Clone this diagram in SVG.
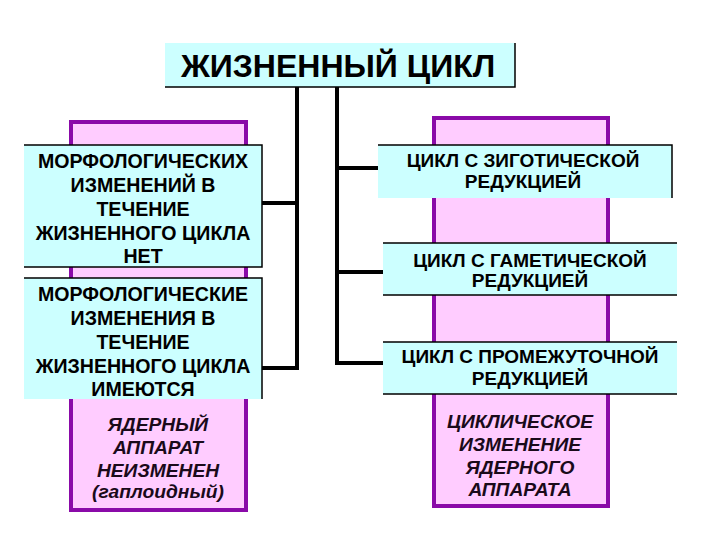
<svg xmlns="http://www.w3.org/2000/svg" width="720" height="540" viewBox="0 0 720 540">
<style>
.pk{fill:#ffccff;stroke:#8a0aa8;stroke-width:4}
.cy{fill:#ccffff}
.ed{stroke:#000;stroke-width:1.5;fill:none}
.t{font-family:"Liberation Sans",Arial,sans-serif;font-weight:bold;font-size:19.6px;fill:#000;text-anchor:middle}
.r{font-family:"Liberation Sans",Arial,sans-serif;font-weight:bold;font-size:19px;fill:#000;text-anchor:middle}
.i{font-family:"Liberation Sans",Arial,sans-serif;font-weight:bold;font-style:italic;font-size:19.2px;fill:#1a0a1a;text-anchor:middle}
.c{stroke:#000;stroke-width:4;fill:none}
</style>
<rect width="720" height="540" fill="#fff"/>
<g id="left-column">
<rect class="pk" x="71" y="122" width="175" height="388"/>
<text class="i" x="158" y="431">ЯДЕРНЫЙ</text>
<text class="i" x="158" y="454">АППАРАТ</text>
<text class="i" x="158" y="477">НЕИЗМЕНЕН</text>
<text class="i" x="158" y="498">(гаплоидный)</text>
</g>
<g id="right-column">
<rect class="pk" x="434" y="118" width="174" height="388"/>
<text class="i" x="520" y="428">ЦИКЛИЧЕСКОЕ</text>
<text class="i" x="520" y="451">ИЗМЕНЕНИЕ</text>
<text class="i" x="520" y="474">ЯДЕРНОГО</text>
<text class="i" x="520" y="496">АППАРАТА</text>
</g>
<g id="connectors">
<path class="c" d="M297 87V368H262M297 203H262"/>
<path class="c" d="M337 87V363H383M337 168H378M337 272H383"/>
</g>
<g id="title">
<rect class="cy" x="165" y="43" width="350" height="44"/>
<path class="ed" d="M515 43V87H165"/>
<text x="338" y="77" style="font-family:'Liberation Sans',Arial,sans-serif;font-weight:bold;font-size:32px;text-anchor:middle" fill="#000">ЖИЗНЕННЫЙ ЦИКЛ</text>
</g>
<g id="no-change">
<rect class="cy" x="24" y="145" width="238" height="122"/>
<path class="ed" d="M24 145H262V267H24"/>
<text class="t" x="143" y="168">МОРФОЛОГИЧЕСКИХ</text>
<text class="t" x="143" y="192">ИЗМЕНЕНИЙ В</text>
<text class="t" x="143" y="216">ТЕЧЕНИЕ</text>
<text class="t" x="143" y="240">ЖИЗНЕННОГО ЦИКЛА</text>
<text class="t" x="143" y="263">НЕТ</text>
</g>
<g id="change">
<rect class="cy" x="24" y="278" width="238" height="121"/>
<path class="ed" d="M24 278H262V399"/>
<text class="t" x="143" y="301">МОРФОЛОГИЧЕСКИЕ</text>
<text class="t" x="143" y="325">ИЗМЕНЕНИЯ В</text>
<text class="t" x="143" y="349">ТЕЧЕНИЕ</text>
<text class="t" x="143" y="373">ЖИЗНЕННОГО ЦИКЛА</text>
<text class="t" x="143" y="396">ИМЕЮТСЯ</text>
</g>
<g id="zygotic">
<rect class="cy" x="378" y="145" width="294" height="53"/>
<path class="ed" d="M378 145H672V198"/>
<text class="r" x="523" y="167">ЦИКЛ С ЗИГОТИЧЕСКОЙ</text>
<text class="r" x="523" y="188">РЕДУКЦИЕЙ</text>
</g>
<g id="gametic">
<rect class="cy" x="383" y="243" width="294" height="52"/>
<path class="ed" d="M383 243H677M383 295H677"/>
<text class="r" x="530" y="267">ЦИКЛ С ГАМЕТИЧЕСКОЙ</text>
<text class="r" x="530" y="287">РЕДУКЦИЕЙ</text>
</g>
<g id="intermediate">
<rect class="cy" x="383" y="342" width="294" height="52"/>
<path class="ed" d="M383 342H677M383 394H677"/>
<text class="r" x="530" y="363">ЦИКЛ С ПРОМЕЖУТОЧНОЙ</text>
<text class="r" x="530" y="385">РЕДУКЦИЕЙ</text>
</g>
</svg>
